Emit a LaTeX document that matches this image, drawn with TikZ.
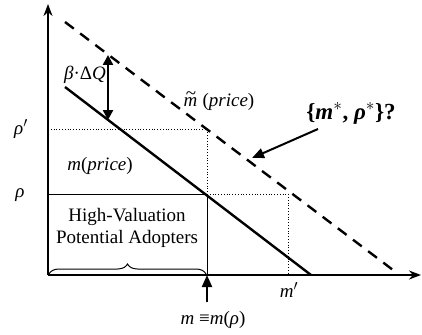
\documentclass[tikz,border=0pt]{standalone}
\usepackage{fontspec}
\setmainfont{Liberation Serif}
\usetikzlibrary{arrows.meta,decorations.pathreplacing}
\tikzset{
  axis/.style={line width=1.8pt,-{Stealth[length=12pt,width=9pt]}},
  demand/.style={line width=2.4pt},
  shifted/.style={line width=2.4pt,dash pattern=on 11pt off 8pt},
  guide/.style={line width=0.8pt,dotted},
  thin/.style={line width=1pt},
  lbl/.style={font=\fontsize{19}{22}\selectfont,inner sep=0pt},
  dbl/.style={line width=2.4pt,{Triangle[length=10pt,width=10pt]}-{Triangle[length=10pt,width=10pt]}},
  ptr/.style={line width=2pt,-{Triangle[length=12pt,width=10pt]}}
}
\newcommand{\mtil}{\textit{m}\kern-0.62em\raisebox{0.38em}{\textit{\char"007E}}\kern0.1em}
\begin{document}
\begin{tikzpicture}[x=1pt,y=-1pt]
\useasboundingbox (0,0) rectangle (422,334);
% points
\coordinate (O) at (48,275);
\coordinate (Yt) at (48,4);
\coordinate (Xt) at (421,275);
\coordinate (D1) at (65,22);
\coordinate (D2) at (397,273);
\coordinate (S1) at (65,87);
\coordinate (S2) at (311,275);
\coordinate (Rp) at (48,129);
\coordinate (Rpd) at (207,129);
\coordinate (R) at (48,194);
\coordinate (Rs) at (207,194);
\coordinate (Mb) at (207,275);
\coordinate (Md) at (288,194);
\coordinate (Mpb) at (288,275);
\coordinate (Da) at (108,55);
\coordinate (Sa) at (108,120);
\coordinate (Ab) at (207,302);
\coordinate (Ptr1) at (318,129);
\coordinate (Ptr2) at (252,158);
% guides
\draw[guide] (Rp) -- (Rpd) -- (Rs);
\draw[guide] (Rs) -- (Md) -- (Mpb);
\draw[thin] (R) -- (Rs) -- (Mb);
% curves
\draw[shifted] (D1) -- (D2);
\draw[demand] (S1) -- (S2);
% axes
\draw[axis] (O) -- (Yt);
\draw[axis] (O) -- (Xt);
% brace
\draw[thin,decorate,decoration={brace,amplitude=10pt}] (49,274) -- (206,274);
% arrows
\draw[dbl] (Da) -- (Sa);
\draw[ptr] (Ab) -- (Mb);
\draw[ptr] (Ptr1) -- (Ptr2);
% labels
\node[lbl] (lbq) at (85,75) {\textit{β}·Δ\textit{Q}};
\node[lbl] (lmt) at (219,101) {\mtil\ (\textit{price})};
\node[lbl,font=\fontsize{23}{26}\selectfont\bfseries] (lst) at (351,113) {\{\textit{m}$^{*}$, \textit{ρ}$^{*}$\}?};
\node[lbl] (lrp) at (21,129) {\textit{ρ}$'$};
\node[lbl] (lr) at (20,195) {\textit{ρ}};
\node[lbl] (lm) at (100,166) {\textit{m}(\textit{price})};
\node[lbl,align=center,font=\fontsize{19}{21.5}\selectfont] (lhv) at (127,228) {High-Valuation\\Potential Adopters};
\node[lbl] (lmp) at (289,290) {\textit{m}$'$};
\node[lbl] (lmm) at (213,320) {\textit{m} ≡\textit{m}(\textit{ρ})};
\end{tikzpicture}
\end{document}
